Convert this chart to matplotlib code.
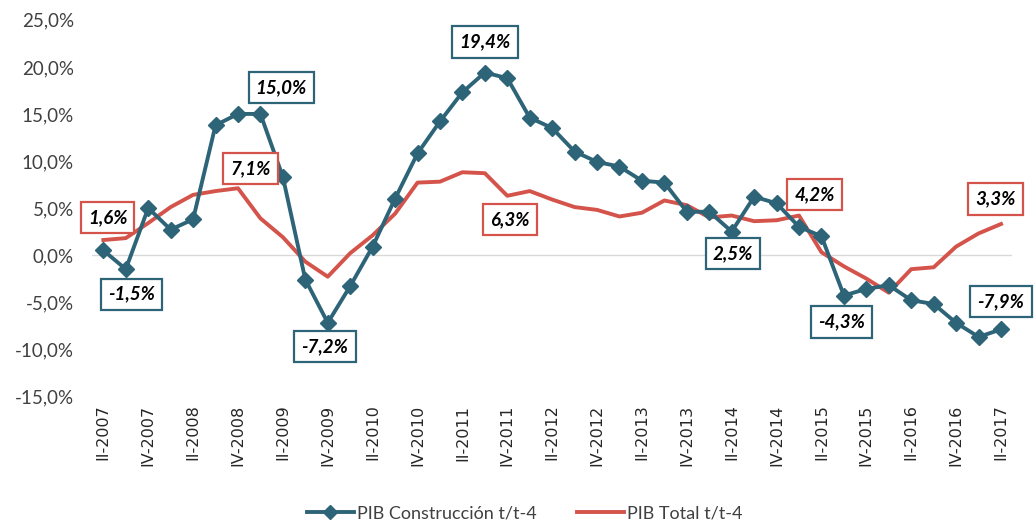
import matplotlib
matplotlib.use("Agg")
import matplotlib.pyplot as plt
from matplotlib.lines import Line2D

# ---- data ----
roman = ["I", "II", "III", "IV"]
quarters = [f"{roman[(q) % 4]}-{2007 + (q) // 4}" for q in range(1, 42)]  # II-2007 .. II-2017
tick_labels = quarters[::2]

pib_construccion = [0.5, -1.5, 5.0, 2.7, 3.8, 13.8, 15.0, 15.0, 8.3, -2.6,
                    -7.2, -3.3, 0.9, 6.0, 10.8, 14.2, 17.3, 19.4, 18.8, 14.6,
                    13.5, 11.0, 9.9, 9.4, 7.9, 7.7, 4.6, 4.6, 2.5, 6.2,
                    5.5, 3.0, 2.0, -4.3, -3.6, -3.2, -4.8, -5.2, -7.2, -8.7,
                    -7.9]
pib_total = [1.6, 1.8, 3.4, 5.1, 6.4, 6.8, 7.1, 3.9, 1.9, -0.7,
             -2.3, 0.2, 2.1, 4.4, 7.7, 7.8, 8.8, 8.7, 6.3, 6.8,
             5.9, 5.1, 4.8, 4.1, 4.5, 5.8, 5.3, 4.0, 4.2, 3.6,
             3.7, 4.2, 0.3, -1.2, -2.5, -4.0, -1.5, -1.3, 0.9, 2.3,
             3.3]

series_names = ["PIB Construcción t/t-4", "PIB Total t/t-4"]

# labelled points (indices)
labels_construccion = [1, 7, 10, 17, 28, 33, 40]
labels_total = [0, 6, 18, 31, 40]

# ---- style ----
BLUE = "#2E6478"
RED = "#D4534A"
FONT = "Lato"

fig = plt.figure(figsize=(10.35, 5.22), dpi=100)
ax = fig.add_axes([0.089, 0.241, 0.889, 0.721])

x = list(range(len(quarters)))
ax.plot(x, pib_total, color=RED, lw=2.8, zorder=3, solid_joinstyle="round")
ax.plot(x, pib_construccion, color=BLUE, lw=2.8, marker="D", markersize=8.5,
        markeredgecolor=BLUE, zorder=4)

ax.axhline(0, color="#D9D9D9", lw=1.0, zorder=1)

ax.set_xlim(-0.5, len(quarters) - 0.5)
ax.set_ylim(-15, 25)
ax.set_yticks(range(-15, 26, 5))
ax.set_yticklabels([f"{v:.1f}%".replace(".", ",") for v in range(-15, 26, 5)],
                   fontsize=13.5, color="#404040", family=FONT)
ax.set_xticks(x[::2])
ax.set_xticklabels(tick_labels, rotation=90, fontsize=11.5, color="#262626",
                   family="DejaVu Sans")
ax.tick_params(axis="both", length=0, pad=6)
ax.tick_params(axis="y", pad=13)
for s in ax.spines.values():
    s.set_visible(False)

offsets_c = {1: (4, -18), 7: (15, 19), 10: (-2, -17), 17: (0, 22),
             28: (1, -16), 33: (-2, -19), 40: (0, 20)}
offsets_t = {0: (3, 16), 6: (9, 14), 18: (2, -17), 31: (11, 15), 40: (-4, 18)}

def lab(i, vals, color, off):
    ax.annotate(f"{vals[i]:.1f}%".replace(".", ","), (i, vals[i]),
                xytext=off, textcoords="offset points", ha="center", va="center",
                fontsize=13.5, fontweight="bold", fontstyle="italic", family=FONT,
                color="black", zorder=6,
                bbox=dict(boxstyle="square,pad=0.38", fc="white", ec=color, lw=1.6))

for i in labels_construccion:
    lab(i, pib_construccion, BLUE, offsets_c[i])
for i in labels_total:
    lab(i, pib_total, RED, offsets_t[i])

handles = [Line2D([], [], color=BLUE, lw=2.8, marker="D", markersize=7),
           Line2D([], [], color=RED, lw=2.8)]
fig.legend(handles, series_names, loc="center", bbox_to_anchor=(0.507, 0.017),
           ncol=2, frameon=False, prop={"family": FONT, "size": 13},
           handlelength=2.6, columnspacing=2.2, handletextpad=0.2,
           labelcolor="#404040")

fig.savefig("out.png", dpi=100, facecolor="white")
